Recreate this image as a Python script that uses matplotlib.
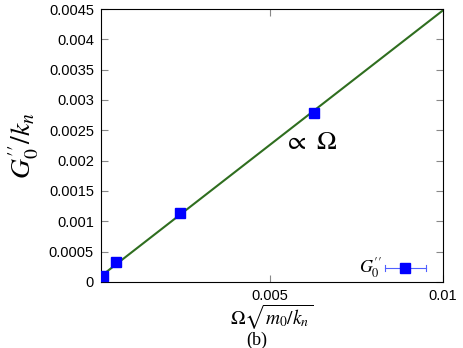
import matplotlib
matplotlib.use("Agg")
import matplotlib.pyplot as plt

# data
omega = [0.00015, 0.00053, 0.0024, 0.00626]
g0pp = [0.0001, 0.00033, 0.00114, 0.00279]

# linear fit  ~ Omega
fit_x = [0.0, 0.01]
fit_y = [0.00005, 0.00448]

x_ticks = [0.005, 0.01]
x_ticklabels = ["0.005", "0.01"]
y_ticks = [0, 0.0005, 0.001, 0.0015, 0.002, 0.0025, 0.003, 0.0035, 0.004, 0.0045]
y_ticklabels = ["0", "0.0005", "0.001", "0.0015", "0.002", "0.0025", "0.003", "0.0035", "0.004", "0.0045"]

plt.rcParams['mathtext.fontset'] = 'stix'
plt.rcParams['font.family'] = 'Liberation Sans'

fig = plt.figure(figsize=(4.63, 3.48), dpi=100)
ax = fig.add_axes([0.218, 0.19, 0.739, 0.784])

ax.plot(fit_x, fit_y, color='#2f6e1f', lw=1.5, zorder=2)
ax.plot(omega, g0pp, 's', color='#0000ff', ms=7, zorder=3)

# hand-made key, gnuplot style (text left of the sample)
kx, ky = 0.889, 0.051
ax.plot([0.830, 0.950], [ky, ky], color='#5060ff', lw=0.8, transform=ax.transAxes)
ax.plot([0.830, 0.830], [ky - 0.012, ky + 0.012], color='#5060ff', lw=0.8, transform=ax.transAxes)
ax.plot([0.950, 0.950], [ky - 0.012, ky + 0.012], color='#5060ff', lw=0.8, transform=ax.transAxes)
ax.plot([kx], [ky], 's', color='#0000ff', ms=7, transform=ax.transAxes)
ax.text(0.822, ky, r"$G_0^{\prime\prime}$", fontsize=13, ha='right', va='center',
        transform=ax.transAxes)

ax.set_xlim(0.0001, 0.01)
ax.set_ylim(0, 0.0045)
ax.set_xticks(x_ticks)
ax.set_xticklabels(x_ticklabels)
ax.set_yticks(y_ticks)
ax.set_yticklabels(y_ticklabels)
ax.tick_params(direction='in', length=5, width=0.8, color='#888888',
               labelsize=10.5, top=True, right=True, pad=5)

ax.set_ylabel(r"$G_0^{\prime\prime}/k_n$", fontsize=20, labelpad=6)
ax.set_xlabel(r"$\Omega\sqrt{m_0/k_n}$", fontsize=14, labelpad=0)
fig.text(0.555, 0.022, "(b)", fontsize=13, family='Liberation Serif',
         ha='center', va='center')

ax.text(0.00541, 0.00219, r"$\propto\ \Omega$", fontsize=19)

fig.savefig("out.png", dpi=100)
